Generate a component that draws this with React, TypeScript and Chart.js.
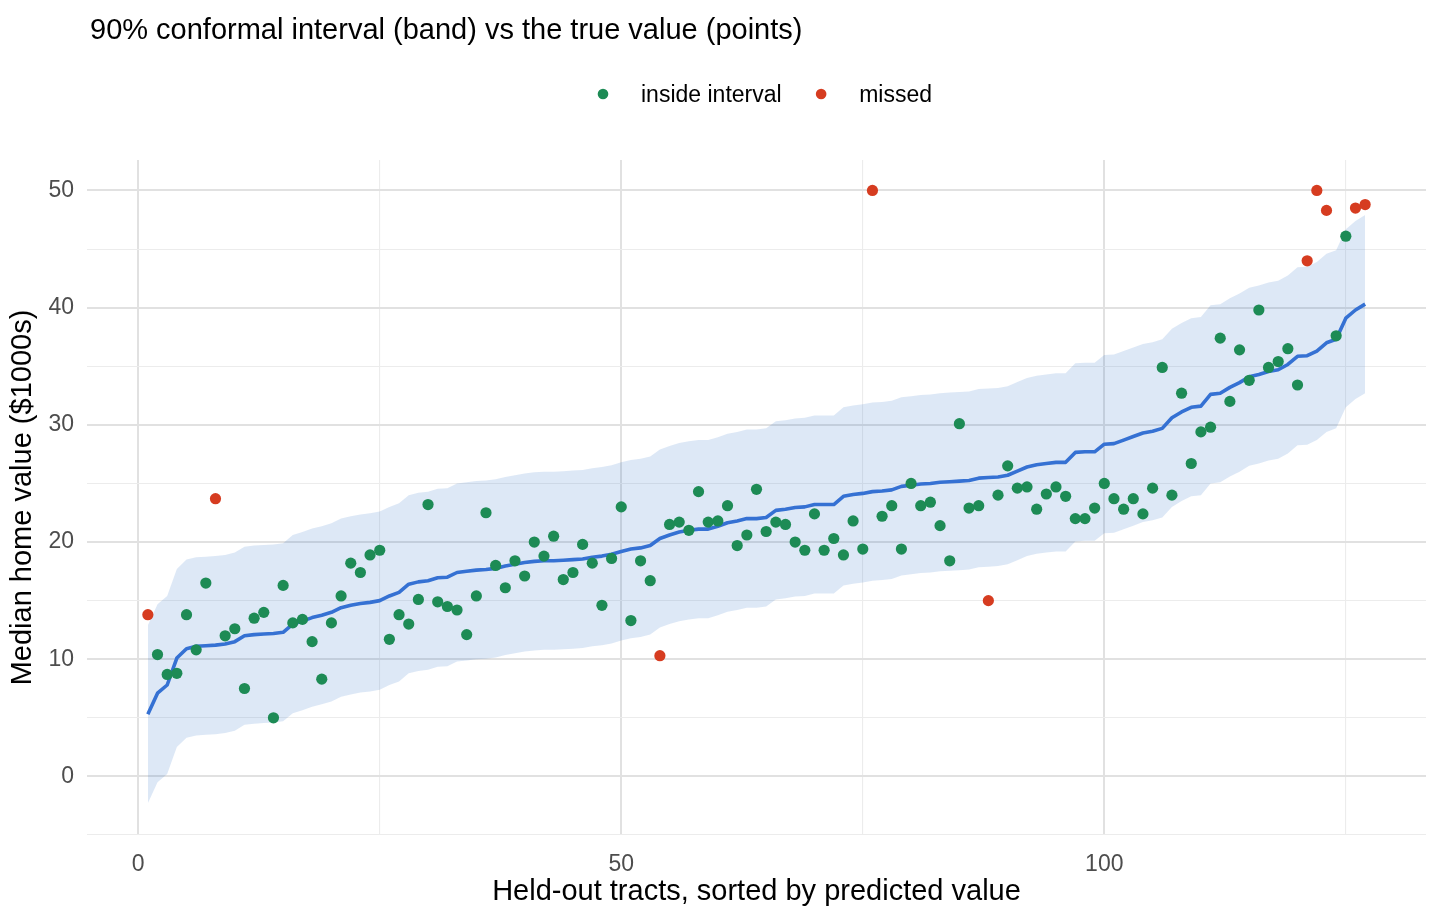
import React, { useEffect, useRef } from "react";
import { Chart, registerables } from "chart.js";

Chart.register(...registerables);

const TITLE = "90% conformal interval (band) vs the true value (points)";
const X_TITLE = "Held-out tracts, sorted by predicted value";
const Y_TITLE = "Median home value ($1000s)";
const LEGEND_LABELS = ["inside interval", "missed"];

const X_TICKS = [0, 25, 50, 75, 100, 125];
const X_TICK_LABELS = ["0", "", "50", "", "100", ""];
const Y_TICKS = [-5, 0, 5, 10, 15, 20, 25, 30, 35, 40, 45, 50];
const Y_TICK_LABELS = ["", "0", "", "10", "", "20", "", "30", "", "40", "", "50"];

// half-width of the 90% conformal interval
const CONFORMAL_Q = 7.6;

// model prediction for each held-out tract (sorted)
const PREDICTED = [
  5.3, 7.1, 7.8, 10.1, 10.9, 11.1, 11.15, 11.2, 11.3, 11.5,
  12.0, 12.1, 12.15, 12.2, 12.3, 13.0, 13.25, 13.55, 13.75, 14.0,
  14.4, 14.6, 14.75, 14.85, 15.0, 15.4, 15.7, 16.4, 16.6, 16.7,
  16.95, 17.0, 17.4, 17.5, 17.6, 17.65, 17.75, 17.95, 18.1, 18.25,
  18.35, 18.4, 18.4, 18.45, 18.5, 18.55, 18.7, 18.8, 18.95, 19.2,
  19.4, 19.5, 19.7, 20.3, 20.6, 20.85, 21.0, 21.1, 21.1, 21.35,
  21.65, 21.8, 22.0, 22.0, 22.1, 22.7, 22.8, 22.95, 23.0, 23.2,
  23.2, 23.2, 23.9, 24.05, 24.15, 24.3, 24.35, 24.45, 24.75, 24.85,
  24.95, 25.0, 25.1, 25.15, 25.2, 25.25, 25.45, 25.5, 25.55, 25.7,
  26.05, 26.4, 26.6, 26.7, 26.8, 26.8, 27.65, 27.7, 27.7, 28.35,
  28.4, 28.7, 29.0, 29.3, 29.45, 29.7, 30.6, 31.1, 31.5, 31.6,
  32.6, 32.7, 33.2, 33.6, 34.1, 34.3, 34.55, 34.7, 35.15, 35.85,
  35.9, 36.3, 37.0, 37.3, 39.1, 39.8, 40.3,
];

// observed median home value for each tract
const ACTUAL = [
  13.8, 10.4, 8.7, 8.8, 13.8, 10.8, 16.5, 23.7, 12.0, 12.6,
  7.5, 13.5, 14.0, 5.0, 16.3, 13.1, 13.4, 11.5, 8.3, 13.1,
  15.4, 18.2, 17.4, 18.9, 19.3, 11.7, 13.8, 13.0, 15.1, 23.2,
  14.9, 14.5, 14.2, 12.1, 15.4, 22.5, 18.0, 16.1, 18.4, 17.1,
  20.0, 18.8, 20.5, 16.8, 17.4, 19.8, 18.2, 14.6, 18.6, 23.0,
  13.3, 18.4, 16.7, 10.3, 21.5, 21.7, 21.0, 24.3, 21.7, 21.8,
  23.1, 19.7, 20.6, 24.5, 20.9, 21.7, 21.5, 20.0, 19.3, 22.4,
  19.3, 20.3, 18.9, 21.8, 19.4, 50.0, 22.2, 23.1, 19.4, 25.0,
  23.1, 23.4, 21.4, 18.4, 30.1, 22.9, 23.1, 15.0, 24.0, 26.5,
  24.6, 24.7, 22.8, 24.1, 24.7, 23.9, 22.0, 22.0, 22.9, 25.0,
  23.7, 22.8, 23.7, 22.4, 24.6, 34.9, 24.0, 32.7, 26.7, 29.4,
  29.8, 37.4, 32.0, 36.4, 33.8, 39.8, 34.9, 35.4, 36.5, 33.4,
  44.0, 50.0, 48.3, 37.6, 46.1, 48.5, 48.8,
];

const GREEN = "#1d8b55";
const RED = "#d63c20";
const BLUE = "#3571d3";
const BAND = "rgba(46, 110, 200, 0.16)";
const FONT = '"Liberation Sans", Arial, Helvetica, sans-serif';

const overlayPlugin = {
  id: "titleLegend",
  afterDraw(chart: any) {
    const ctx = chart.ctx;
    ctx.save();
    ctx.textBaseline = "alphabetic";
    ctx.textAlign = "left";
    ctx.fillStyle = "#000000";
    ctx.font = `29px ${FONT}`;
    ctx.fillText(TITLE, 90, 39);

    ctx.font = `23px ${FONT}`;
    const colors = [GREEN, RED];
    let x = 603;
    LEGEND_LABELS.forEach((lab, i) => {
      ctx.fillStyle = colors[i];
      ctx.beginPath();
      ctx.arc(x, 94, 5.3, 0, Math.PI * 2);
      ctx.fill();
      ctx.fillStyle = "#000000";
      ctx.fillText(lab, x + 38, 102);
      x += 38 + ctx.measureText(lab).width + 39.5;
    });
    ctx.restore();
  },
};

export default function App() {
  const ref = useRef<HTMLCanvasElement | null>(null);

  useEffect(() => {
    document.body.style.margin = "0";
    const canvas = ref.current;
    if (!canvas) return;
    Chart.defaults.font.family = FONT;

    const tracts = PREDICTED.map((_, i) => i + 1);
    const lower = tracts.map((t, i) => ({ x: t, y: PREDICTED[i] - CONFORMAL_Q }));
    const upper = tracts.map((t, i) => ({ x: t, y: PREDICTED[i] + CONFORMAL_Q }));
    const pred = tracts.map((t, i) => ({ x: t, y: PREDICTED[i] }));
    const inside: { x: number; y: number }[] = [];
    const missed: { x: number; y: number }[] = [];
    tracts.forEach((t, i) => {
      const v = ACTUAL[i];
      if (v < lower[i].y || v > upper[i].y) missed.push({ x: t, y: v });
      else inside.push({ x: t, y: v });
    });

    const grid = (isMajor: (v: number) => boolean) => ({
      color: (c: any) => (c.tick && isMajor(c.tick.value) ? "#e1e1e1" : "#ececec"),
      lineWidth: (c: any) => (c.tick && isMajor(c.tick.value) ? 2 : 1.1),
      drawTicks: false,
    });

    const chart = new Chart(canvas, {
      type: "line",
      data: {
        datasets: [
          {
            label: LEGEND_LABELS[0],
            data: inside,
            showLine: false,
            pointRadius: 5.6,
            pointHoverRadius: 5.6,
            pointBorderWidth: 0,
            backgroundColor: GREEN,
            borderColor: GREEN,
            order: 0,
          },
          {
            label: LEGEND_LABELS[1],
            data: missed,
            showLine: false,
            pointRadius: 5.6,
            pointHoverRadius: 5.6,
            pointBorderWidth: 0,
            backgroundColor: RED,
            borderColor: RED,
            order: 0,
          },
          {
            label: "predicted",
            data: pred,
            borderColor: BLUE,
            borderWidth: 3.6,
            borderJoinStyle: "round",
            pointRadius: 0,
            fill: false,
            tension: 0,
            order: 1,
          },
          {
            label: "lower",
            data: lower,
            borderColor: "rgba(0,0,0,0)",
            borderWidth: 0,
            pointRadius: 0,
            fill: false,
            order: 2,
          },
          {
            label: "upper",
            data: upper,
            borderColor: "rgba(0,0,0,0)",
            borderWidth: 0,
            pointRadius: 0,
            backgroundColor: BAND,
            fill: "-1",
            order: 3,
          },
        ],
      },
      options: {
        responsive: false,
        animation: false,
        events: [],
        layout: { padding: { top: 160, right: 14, left: 0, bottom: 0 } },
        plugins: {
          legend: { display: false },
          title: { display: false },
          tooltip: { enabled: false },
        },
        scales: {
          x: {
            type: "linear",
            min: -5.3,
            max: 133.3,
            afterBuildTicks: (s: any) => {
              s.ticks = X_TICKS.map((v) => ({ value: v }));
            },
            afterFit: (s: any) => {
              s.height = 86;
            },
            ticks: {
              autoSkip: false,
              maxRotation: 0,
              padding: 16,
              color: "#4d4d4d",
              font: { size: 23 },
              callback: (_v: any, i: number) => X_TICK_LABELS[i] ?? "",
            },
            grid: grid((v) => v % 50 === 0),
            border: { display: false },
            title: {
              display: true,
              text: X_TITLE,
              color: "#000000",
              font: { size: 29 },
              padding: { top: 0, bottom: 12 },
            },
          },
          y: {
            type: "linear",
            min: -5,
            max: 52.6,
            afterBuildTicks: (s: any) => {
              s.ticks = Y_TICKS.map((v) => ({ value: v }));
            },
            afterFit: (s: any) => {
              s.width = 87;
            },
            ticks: {
              autoSkip: false,
              padding: 13,
              color: "#4d4d4d",
              font: { size: 23 },
              callback: (_v: any, i: number) => Y_TICK_LABELS[i] ?? "",
            },
            grid: grid((v) => v % 10 === 0),
            border: { display: false },
            title: {
              display: true,
              text: Y_TITLE,
              color: "#000000",
              font: { size: 29 },
              padding: { top: 6, bottom: 0 },
            },
          },
        },
      },
      plugins: [overlayPlugin],
    } as any);

    return () => chart.destroy();
  }, []);

  return (
    <div style={{ position: "relative", width: 1440, height: 921 }}>
      <canvas ref={ref} width={1440} height={921} style={{ width: 1440, height: 921, display: "block" }} />
    </div>
  );
}
